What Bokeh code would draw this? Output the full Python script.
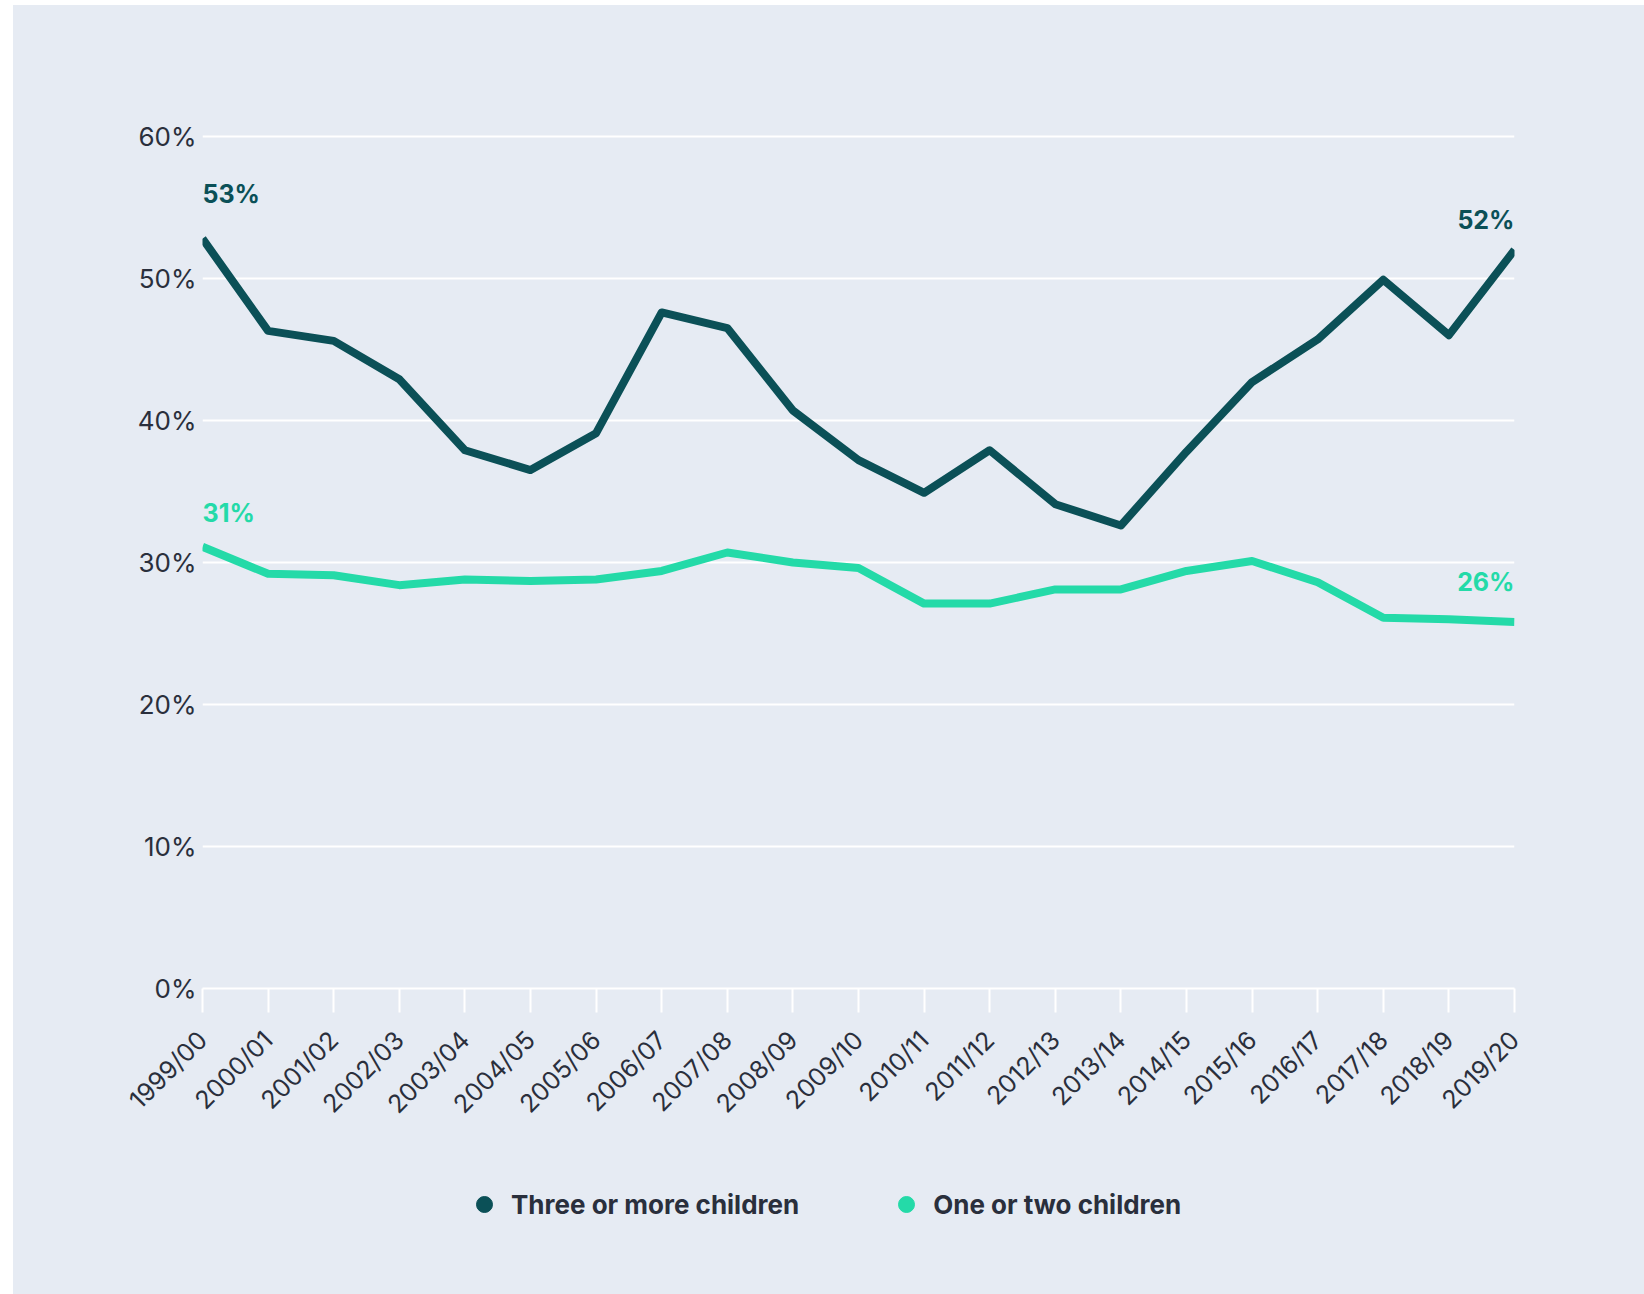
import math
from bokeh.plotting import figure
from bokeh.layouts import column
from bokeh.models import Range1d, FixedTicker, Legend, LegendItem, ColumnDataSource
from bokeh.core.properties import value
from bokeh.embed import file_html
from bokeh.resources import INLINE

years = ["1999/00", "2000/01", "2001/02", "2002/03", "2003/04", "2004/05", "2005/06",
         "2006/07", "2007/08", "2008/09", "2009/10", "2010/11", "2011/12", "2012/13",
         "2013/14", "2014/15", "2015/16", "2016/17", "2017/18", "2018/19", "2019/20"]
three_plus = [52.8, 46.3, 45.6, 42.9, 37.9, 36.5, 39.1, 47.6, 46.5, 40.7, 37.2,
              34.9, 37.9, 34.1, 32.6, 37.8, 42.7, 45.7, 49.9, 46.0, 52.0]
one_two = [31.1, 29.2, 29.1, 28.4, 28.8, 28.7, 28.8, 29.4, 30.7, 30.0, 29.6,
           27.1, 27.1, 28.1, 28.1, 29.4, 30.1, 28.6, 26.1, 26.0, 25.8]
y_ticks = [0, 10, 20, 30, 40, 50, 60]
series_names = ["Three or more children", "One or two children"]

BG = "#E6EBF3"
DARK = "#0B5057"
LIGHT = "#24DAA8"
TXT = "#2A2F3C"
FONT = "Inter"

x = list(range(len(years)))

W = 1631
H_MAIN = 1160
H_LEG = 129

p = figure(width=W, height=H_MAIN, output_backend="svg", toolbar_location=None,
           x_range=Range1d(0, len(years) - 1), y_range=Range1d(0, 60.2),
           min_border_left=189, min_border_right=130, min_border_top=128,
           min_border_bottom=H_MAIN - 983)
p.background_fill_color = None
p.border_fill_color = None
p.outline_line_color = None

# y axis
p.yaxis.ticker = FixedTicker(ticks=y_ticks)
p.yaxis.major_label_overrides = {t: f"{t}%" for t in y_ticks}
p.yaxis.axis_line_color = None
p.yaxis.major_tick_line_color = None
p.yaxis.minor_tick_line_color = None
p.yaxis.major_tick_in = 0
p.yaxis.major_tick_out = 0
p.yaxis.major_label_standoff = 6
p.yaxis.major_label_text_font = FONT
p.yaxis.major_label_text_font_size = "26px"
p.yaxis.major_label_text_color = TXT

# x axis
p.xaxis.ticker = FixedTicker(ticks=x)
p.xaxis.major_label_overrides = {i: years[i] for i in x}
p.xaxis.major_label_orientation = math.pi / 4
p.xaxis.major_tick_in = 0
p.xaxis.major_tick_out = 24
p.xaxis.major_tick_line_color = "white"
p.xaxis.major_tick_line_width = 2
p.xaxis.minor_tick_line_color = None
p.xaxis.axis_line_color = "white"
p.xaxis.axis_line_width = 2
p.xaxis.major_label_standoff = 23
p.xaxis.major_label_text_font = FONT
p.xaxis.major_label_text_font_size = "25px"
p.xaxis.major_label_text_color = TXT

p.xgrid.visible = False
p.ygrid.grid_line_color = "white"
p.ygrid.grid_line_width = 2

p.line(x, one_two, line_color=LIGHT, line_width=8, line_join="round")
p.line(x, three_plus, line_color=DARK, line_width=8, line_join="round")

last = len(years) - 1
lab = ColumnDataSource(dict(
    x=[0, last, 0, last],
    y=[three_plus[0], three_plus[-1], one_two[0], one_two[-1]],
    text=[f"{round(v)}%" for v in [three_plus[0], three_plus[-1], one_two[0], one_two[-1]]],
    color=[DARK, DARK, LIGHT, LIGHT],
    align=["left", "right", "left", "right"],
    yoff=[-45, -30, -34, -40],
))
p.text(x="x", y="y", text="text", text_color="color", text_align="align",
       y_offset="yoff", text_baseline="middle", text_font=value(FONT),
       text_font_size="25px", text_font_style="bold", source=lab)

# legend strip
lf = figure(width=W, height=H_LEG, output_backend="svg", toolbar_location=None,
            x_range=Range1d(0, 1), y_range=Range1d(0, 1),
            x_axis_location=None, y_axis_location=None,
            min_border_left=0, min_border_right=0, min_border_top=0, min_border_bottom=0)
lf.background_fill_color = None
lf.border_fill_color = None
lf.outline_line_color = None
lf.grid.visible = False

r1 = lf.scatter(x=x[:1], y=three_plus[:1], size=16, color=DARK, visible=False)
r2 = lf.scatter(x=x[:1], y=one_two[:1], size=16, color=LIGHT, visible=False)
legend = Legend(items=[LegendItem(label=series_names[0], renderers=[r1]),
                       LegendItem(label=series_names[1], renderers=[r2])],
                orientation="horizontal", location=(262, 70),
                background_fill_alpha=0, border_line_color=None,
                label_text_font=FONT, label_text_font_size="26px",
                label_text_font_style="bold", label_text_color=TXT,
                glyph_width=40, glyph_height=40, label_standoff=7,
                spacing=87, padding=0, margin=0, inactive_fill_alpha=0)
lf.add_layout(legend)

layout = column(p, lf, spacing=0)
layout.styles = {"margin-left": "13px", "margin-top": "5px", "background-color": BG}

open("out.html", "w").write(file_html(layout, INLINE))
